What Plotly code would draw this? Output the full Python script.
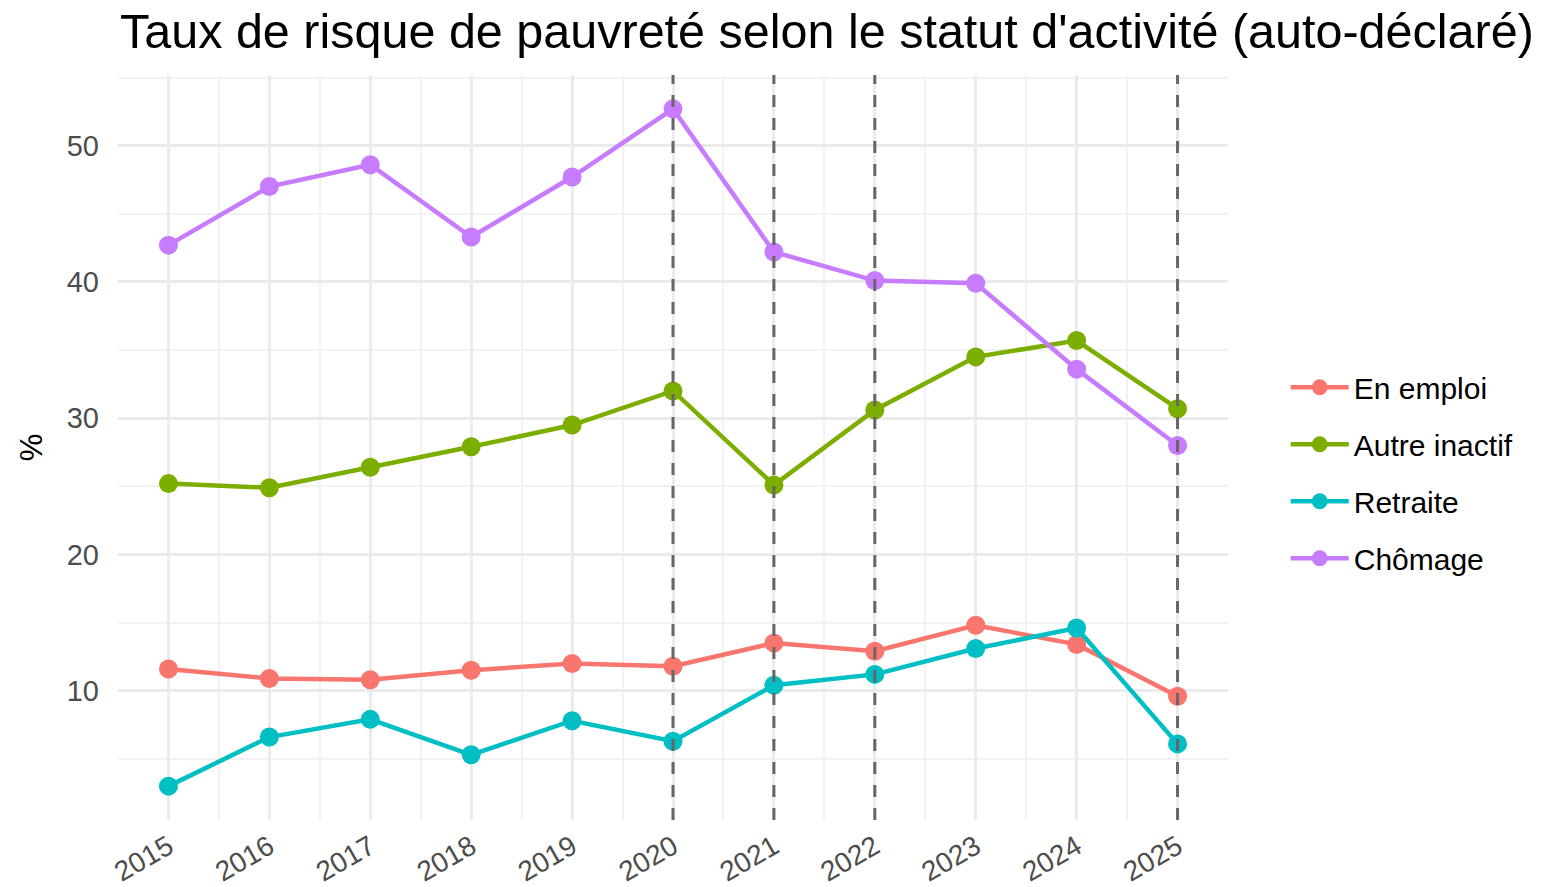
import plotly.graph_objects as go

years = [2015, 2016, 2017, 2018, 2019, 2020, 2021, 2022, 2023, 2024, 2025]
en_emploi = [11.6, 10.9, 10.8, 11.5, 12.0, 11.8, 13.5, 12.9, 14.8, 13.4, 9.6]
autre_inactif = [25.2, 24.9, 26.4, 27.9, 29.5, 32.0, 25.1, 30.6, 34.5, 35.7, 30.7]
retraite = [3.0, 6.6, 7.9, 5.3, 7.8, 6.3, 10.4, 11.2, 13.1, 14.6, 6.1]
chomage = [42.7, 47.0, 48.6, 43.3, 47.7, 52.7, 42.2, 40.1, 39.9, 33.6, 28.0]
vline_years = [2020, 2021, 2022, 2025]

series = [
    ("En emploi", en_emploi, "#F8766D"),
    ("Autre inactif", autre_inactif, "#7CAE00"),
    ("Retraite", retraite, "#00BFC4"),
    ("Chômage", chomage, "#C77CFF"),
]

FONT = "Liberation Sans, Arial, sans-serif"

fig = go.Figure()
for name, vals, col in series:
    fig.add_trace(go.Scatter(
        x=years, y=vals, name=name, mode="lines+markers",
        line=dict(color=col, width=4.5),
        marker=dict(color=col, size=19),
        legendgroup=name,
    ))

for yr in vline_years:
    fig.add_shape(type="line", xref="x", yref="paper", x0=yr, x1=yr, y0=0, y1=1,
                  line=dict(color="#666666", width=3, dash="12px,11px"), layer="above")

fig.update_layout(
    width=1550, height=887,
    paper_bgcolor="white", plot_bgcolor="white",
    margin=dict(l=118, r=322, t=75, b=67, autoexpand=False),
    title=dict(text="Taux de risque de pauvreté selon le statut d'activité (auto-déclaré)",
               x=0.0774, xanchor="left", y=0.965, yanchor="middle",
               font=dict(family=FONT, size=48.5, color="black")),
    font=dict(family=FONT),
    legend=dict(x=1.052, y=0.466, xanchor="left", yanchor="middle",
                font=dict(family=FONT, size=30, color="black"),
                tracegroupgap=15, itemwidth=58),
    showlegend=True,
)

fig.update_xaxes(
    range=[2014.5, 2025.5], tickmode="array", tickvals=years,
    ticktext=[str(y) for y in years], tickangle=-30,
    tickfont=dict(family=FONT, size=28, color="#4d4d4d"),
    showgrid=True, gridcolor="#ebebeb", gridwidth=3,
    minor=dict(tickmode="array", tickvals=[y + 0.5 for y in [2014] + years],
               showgrid=True, gridcolor="#f2f2f2", gridwidth=1.5),
    zeroline=False, showline=False, ticks="", ticklabelstandoff=4,
    automargin=False,
)
fig.update_yaxes(
    range=[0.515, 55.185], tickmode="array", tickvals=[10, 20, 30, 40, 50],
    tickfont=dict(family=FONT, size=29, color="#4d4d4d"),
    title=dict(text="%", font=dict(family=FONT, size=31, color="black"), standoff=14),
    showgrid=True, gridcolor="#ebebeb", gridwidth=3,
    minor=dict(tickmode="array", tickvals=[5, 15, 25, 35, 45, 55],
               showgrid=True, gridcolor="#f2f2f2", gridwidth=1.5),
    zeroline=False, showline=False, ticks="", ticklabelstandoff=18,
    automargin=False,
)

fig.write_html("out.html", config={"displayModeBar": False},
               post_script="document.body.style.margin='0';")
